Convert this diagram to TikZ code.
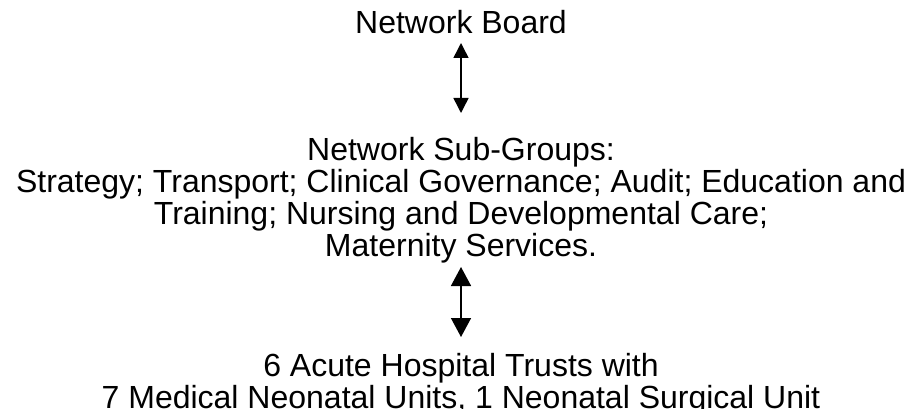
\documentclass[tikz,border=0pt]{standalone}
\usepackage{fontspec}
\setmainfont{Liberation Sans}
\usetikzlibrary{arrows.meta}

\begin{document}
\begin{tikzpicture}[x=1pt,y=-1pt,
    label text/.style={align=center,inner sep=0pt,
      font=\fontsize{32}{32}\selectfont},
    small link/.style={line width=1.5pt,{Triangle[width=15pt,length=15pt]}-{Triangle[width=15pt,length=15pt]}},
    big link/.style={line width=1.5pt,{Triangle[width=20pt,length=19pt]}-{Triangle[width=20pt,length=19pt]}}]
  % page frame (keeps the margins of the scan)
  \useasboundingbox (0,0) rectangle (913,409);

  % the three levels of the network
  \node[label text] (board) at (461,22) {Network Board};
  \node[label text] (groups) at (461,200) {Network Sub-Groups:\\
    Strategy; Transport; Clinical Governance; Audit; Education and\\
    Training; Nursing and Developmental Care;\\
    Maternity Services.};
  \node[label text] (trusts) at (461,384) {6 Acute Hospital Trusts with\\
    7 Medical Neonatal Units, 1 Neonatal Surgical Unit};

  % two-way links between the levels
  \coordinate (boardlow) at (461,43);
  \coordinate (groupstop) at (461,113);
  \coordinate (groupslow) at (461,267);
  \coordinate (truststop) at (461,337);
  \draw[small link] (boardlow) -- (groupstop);
  \draw[big link] (groupslow) -- (truststop);
\end{tikzpicture}
\end{document}
